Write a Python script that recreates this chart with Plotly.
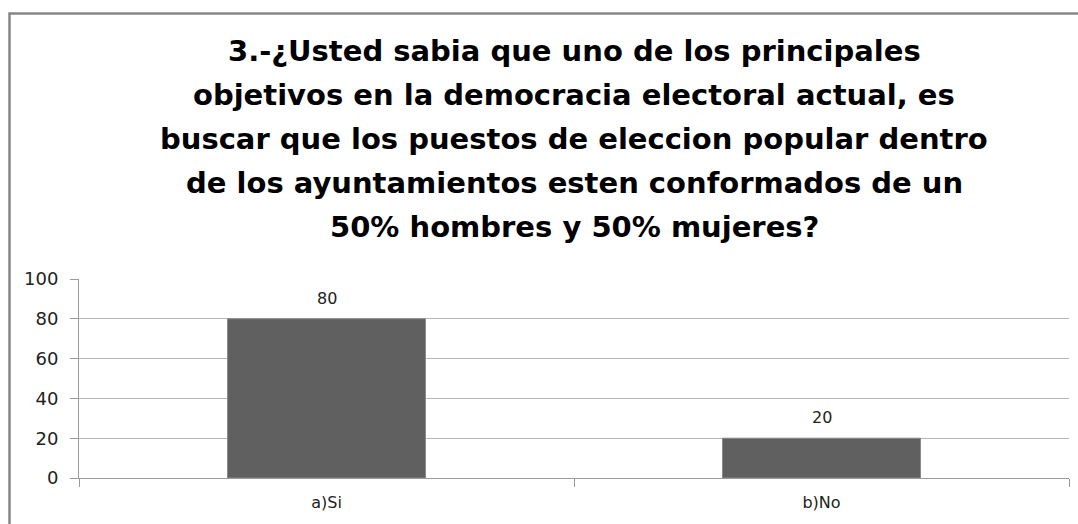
import plotly.graph_objects as go

categories = ["a)Si", "b)No"]
values = [80, 20]
title_lines = [
    "3.-¿Usted sabia que uno de los principales",
    "objetivos en la democracia electoral actual, es",
    "buscar que los puestos de eleccion popular dentro",
    "de los ayuntamientos esten conformados de un",
    "50% hombres y 50% mujeres?",
]
y_ticks = [0, 20, 40, 60, 80, 100]

W, H = 1078, 524
L, R, T, B = 79, 9, 279, 46
ph = H - T - B
pw = W - L - R
FONT = "DejaVu Sans"

fig = go.Figure(go.Bar(
    x=categories, y=values,
    marker=dict(color="#606060", line=dict(color="#8a8a8a", width=1)),
))

# data labels above bars
for c, v in zip(categories, values):
    fig.add_annotation(
        x=c, y=v, xref="x", yref="y", text=str(v), showarrow=False,
        yanchor="bottom", yshift=9,
        font=dict(family=FONT, size=16, color="#222222"),
    )

def py(pix):
    return (H - B - pix) / ph

def px(pix):
    return (pix - L) / pw

line_centers = [51, 95, 139, 183, 227]
for txt, yc in zip(title_lines, line_centers):
    fig.add_annotation(
        text="<b>" + txt + "</b>", x=0.5, xref="paper", y=py(yc), yref="paper",
        xanchor="center", yanchor="middle", showarrow=False,
        font=dict(family=FONT, size=29, color="#000000"),
    )

fig.add_shape(type="rect", xref="paper", yref="paper",
              x0=px(9.5), x1=px(1090), y0=py(545), y1=py(13.5),
              line=dict(color="#868686", width=2.5), fillcolor="rgba(0,0,0,0)", layer="below")

fig.update_layout(
    width=W, height=H,
    margin=dict(l=L, r=R, t=T, b=B),
    plot_bgcolor="white", paper_bgcolor="white",
    bargap=0.6, showlegend=False,
    font=dict(family=FONT, color="#222222"),
)
fig.update_yaxes(
    range=[0, 100], tickvals=y_ticks, showgrid=True, gridcolor="#b5b5b5", gridwidth=1,
    showline=True, linecolor="#9a9a9a", linewidth=1,
    ticks="outside", ticklen=8, tickcolor="#9a9a9a", ticklabelstandoff=8,
    tickfont=dict(family=FONT, size=18, color="#222222"), zeroline=False,
)
fig.update_xaxes(
    showline=True, linecolor="#9a9a9a", linewidth=1,
    ticks="outside", tickson="boundaries", ticklen=8, tickcolor="#9a9a9a",
    ticklabelstandoff=10,
    tickfont=dict(family=FONT, size=16, color="#222222"),
)

fig.write_html("out.html", config={"displayModeBar": False},
               post_script="document.body.style.margin='0';document.body.style.overflow='hidden';")
